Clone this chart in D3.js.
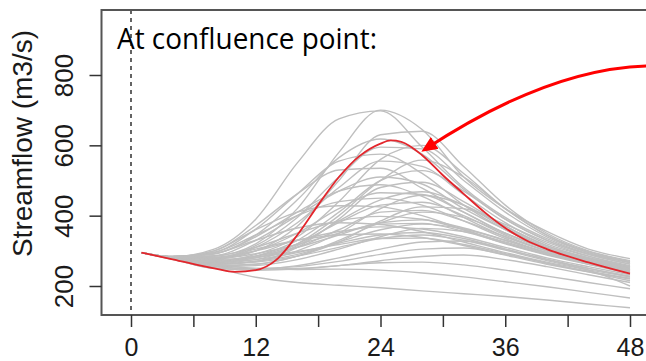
<!DOCTYPE html>
<html>
<head>
<meta charset="utf-8">
<script src="https://cdn.jsdelivr.net/npm/d3@7"></script>
<style>
  html, body { margin: 0; padding: 0; background: #fff; }
  svg { display: block; }
</style>
</head>
<body>
<svg id="chart" width="646" height="361"></svg>
<script>
// ---------------- data ----------------
const hours = [1, 4, 8, 12, 16, 20, 24, 28, 32, 36, 40, 44, 48];

// ensemble members (grey), streamflow m3/s at the hours above
const ensemble = [
  [295, 284, 305, 390, 550, 675, 698, 595, 480, 395, 335, 292, 268],
  [295, 282, 285, 320, 420, 580, 700, 645, 510, 420, 355, 305, 278],
  [295, 281, 278, 300, 370, 500, 630, 640, 540, 430, 350, 300, 272],
  [295, 283, 292, 345, 445, 565, 618, 575, 475, 390, 330, 290, 262],
  [295, 279, 270, 290, 340, 440, 560, 600, 520, 420, 345, 295, 266],
  [295, 284, 296, 362, 462, 555, 575, 520, 430, 360, 310, 280, 255],
  [295, 281, 276, 310, 380, 480, 555, 540, 460, 380, 320, 285, 258],
  [295, 284, 300, 372, 462, 530, 535, 478, 410, 350, 305, 275, 250],
  [295, 279, 266, 285, 330, 410, 500, 528, 470, 390, 330, 290, 262],
  [295, 282, 286, 330, 400, 470, 510, 490, 420, 360, 310, 278, 252],
  [295, 278, 261, 270, 310, 390, 480, 495, 440, 370, 315, 280, 255],
  [295, 283, 291, 340, 410, 470, 488, 455, 395, 340, 300, 272, 248],
  [295, 281, 280, 300, 350, 420, 465, 460, 410, 350, 305, 275, 250],
  [295, 279, 263, 270, 300, 350, 420, 458, 430, 370, 315, 280, 252],
  [295, 283, 295, 345, 400, 440, 450, 430, 385, 335, 295, 268, 245],
  [295, 280, 270, 285, 320, 380, 430, 438, 400, 345, 300, 270, 246],
  [295, 284, 300, 360, 410, 428, 425, 400, 360, 320, 288, 262, 242],
  [295, 279, 268, 280, 310, 360, 410, 415, 385, 340, 300, 270, 245],
  [295, 278, 258, 262, 285, 330, 380, 410, 395, 350, 305, 272, 246],
  [295, 282, 285, 310, 350, 385, 398, 390, 360, 322, 290, 265, 240],
  [295, 280, 272, 285, 310, 345, 380, 388, 365, 330, 295, 268, 242],
  [295, 281, 278, 292, 318, 350, 376, 378, 355, 322, 290, 264, 238],
  [295, 279, 262, 270, 290, 325, 360, 376, 362, 330, 295, 266, 240],
  [295, 282, 282, 300, 330, 355, 368, 362, 340, 310, 280, 255, 232],
  [295, 278, 255, 258, 275, 305, 340, 364, 355, 325, 292, 262, 236],
  [295, 280, 268, 275, 295, 322, 345, 352, 335, 305, 276, 250, 228],
  [295, 281, 275, 282, 298, 318, 335, 336, 318, 292, 265, 242, 222],
  [295, 277, 250, 248, 258, 280, 305, 325, 328, 305, 275, 250, 226],
  [295, 277, 255, 250, 255, 270, 290, 305, 308, 290, 265, 240, 215],
  [295, 276, 250, 245, 248, 258, 272, 284, 288, 275, 255, 232, 210],
  [295, 277, 255, 248, 250, 258, 266, 268, 260, 245, 228, 210, 192],
  [295, 279, 262, 250, 247, 248, 245, 237, 226, 212, 198, 182, 166],
  [295, 276, 252, 225, 210, 202, 195, 186, 178, 170, 160, 149, 138],
  [295, 279, 265, 275, 315, 385, 445, 468, 430, 365, 310, 275, 248],
  [295, 278, 258, 262, 285, 325, 385, 425, 420, 375, 325, 285, 255],
  [295, 281, 278, 315, 395, 510, 595, 590, 500, 410, 340, 295, 268],
  [295, 279, 268, 280, 320, 400, 500, 558, 510, 420, 345, 298, 270],
  [295, 283, 292, 330, 365, 380, 375, 355, 325, 295, 268, 246, 226],
  [295, 281, 280, 305, 330, 345, 348, 338, 315, 288, 262, 240, 220],
  [295, 279, 262, 268, 285, 310, 335, 345, 330, 302, 272, 245, 200]
];

// highlighted member (red)
const redHours = [1, 4, 8, 10, 12, 14, 16, 18, 20, 22, 24, 25, 26, 28, 30, 32, 34, 36, 38, 40, 44, 48];
const redFlow  = [295, 276, 250, 240, 245, 275, 345, 430, 510, 570, 605, 614, 610, 572, 515, 462, 410, 365, 330, 305, 267, 235];

const xTicks = [0, 6, 12, 18, 24, 30, 36, 42, 48];
const xTickLabels = ["0", "", "12", "", "24", "", "36", "", "48"];
const yTicks = [200, 400, 600, 800];
const yTitle = "Streamflow (m3/s)";
const annotation = "At confluence point:";

// arrow annotation (data coordinates: hour, flow)
const arrowPts = [[49.6, 826], [42.7, 820], [35.5, 729], [28.25, 588]];

// ---------------- drawing ----------------
const svg = d3.select("#chart");
const box = { left: 101.5, top: 10, bottom: 315, right: 720 };

const x = d3.scaleLinear().domain([0, 48]).range([131, 630]);
const y = d3.scaleLinear().domain([200, 800]).range([286, 75]);

svg.append("defs").append("clipPath").attr("id", "plotclip")
  .append("rect")
  .attr("x", box.left).attr("y", box.top)
  .attr("width", box.right - box.left).attr("height", box.bottom - box.top);

const plot = svg.append("g").attr("clip-path", "url(#plotclip)");

// dashed line at hour 0
plot.append("line")
  .attr("x1", x(0)).attr("x2", x(0))
  .attr("y1", box.top).attr("y2", box.bottom)
  .attr("stroke", "#222").attr("stroke-width", 1.4)
  .attr("stroke-dasharray", "4,4");

const line = d3.line().curve(d3.curveMonotoneX);

plot.selectAll("path.member")
  .data(ensemble)
  .join("path")
  .attr("class", "member")
  .attr("d", d => line(d.map((v, i) => [x(hours[i]), y(v)])))
  .attr("fill", "none")
  .attr("stroke", "#bfbfbf")
  .attr("stroke-width", 1.4);

plot.append("path")
  .attr("d", line(redFlow.map((v, i) => [x(redHours[i]), y(v)])))
  .attr("fill", "none")
  .attr("stroke", "#e3262c")
  .attr("stroke-width", 1.8);

// frame
svg.append("path")
  .attr("d", `M${box.right},${box.top}H${box.left}V${box.bottom}H${box.right}`)
  .attr("fill", "none").attr("stroke", "#555").attr("stroke-width", 2);

// x axis ticks + labels
const xAxis = d3.axisBottom(x).tickValues(xTicks)
  .tickFormat((d, i) => xTickLabels[i]).tickSizeOuter(0).tickSize(12);
const gx = svg.append("g").attr("transform", `translate(0,${box.bottom})`).call(xAxis);
gx.select(".domain").remove();
gx.selectAll(".tick line").attr("stroke", "#333").attr("stroke-width", 1.5);
gx.selectAll(".tick text").remove();
gx.selectAll(".tick").append("text")
  .attr("y", 40.5)
  .attr("text-anchor", "middle")
  .attr("font-family", "'Liberation Sans', Arial, sans-serif")
  .attr("font-size", 25).attr("fill", "#1a1a1a")
  .text((d, i) => xTickLabels[i]);

// y axis ticks + labels
const yAxis = d3.axisLeft(y).tickValues(yTicks).tickSize(12).tickSizeOuter(0);
const gy = svg.append("g").attr("transform", `translate(${box.left},0)`).call(yAxis);
gy.select(".domain").remove();
gy.selectAll(".tick line").attr("stroke", "#333").attr("stroke-width", 1.5);
gy.selectAll(".tick text").remove();
gy.selectAll(".tick").append("text")
  .attr("transform", "translate(-28.5,0) rotate(-90)")
  .attr("text-anchor", "middle")
  .attr("font-family", "'Liberation Sans', Arial, sans-serif")
  .attr("font-size", 26).attr("fill", "#1a1a1a")
  .text(d => d);

// y title
svg.append("text")
  .attr("transform", `translate(32,143.5) rotate(-90)`)
  .attr("text-anchor", "middle")
  .attr("font-family", "'Liberation Sans', Arial, sans-serif")
  .attr("font-size", 28).attr("fill", "#1a1a1a")
  .text(yTitle);

// annotation text
svg.append("text")
  .attr("x", 117).attr("y", 49)
  .attr("font-family", "'Open Sans', 'Noto Sans', sans-serif")
  .attr("font-size", 29)
  .attr("textLength", 260).attr("lengthAdjust", "spacingAndGlyphs")
  .attr("fill", "#000")
  .text(annotation);

// red arrow
const defs = svg.select("defs");
defs.append("marker")
  .attr("id", "arrowhead")
  .attr("viewBox", "0 0 16 14")
  .attr("markerWidth", 16).attr("markerHeight", 14)
  .attr("markerUnits", "userSpaceOnUse")
  .attr("refX", 12).attr("refY", 7)
  .attr("orient", "auto")
  .append("path").attr("d", "M0,0L16,7L0,14Z").attr("fill", "#ff0000");

const ap = arrowPts.map(p => [x(p[0]), y(p[1])]);
svg.append("path")
  .attr("d", `M${ap[0][0]},${ap[0][1]}C${ap[1][0]},${ap[1][1]} ${ap[2][0]},${ap[2][1]} ${ap[3][0]},${ap[3][1]}`)
  .attr("fill", "none").attr("stroke", "#ff0000").attr("stroke-width", 3)
  .attr("marker-end", "url(#arrowhead)");
</script>
</body>
</html>
